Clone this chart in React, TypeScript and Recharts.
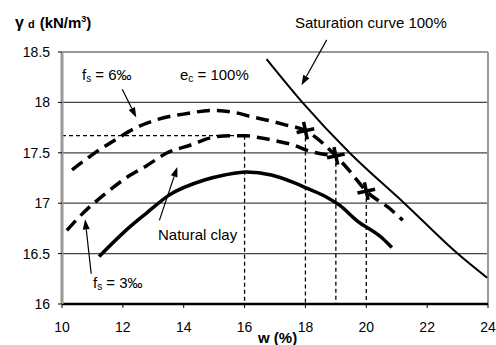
import {
  LineChart,
  Line,
  XAxis,
  YAxis,
  CartesianGrid,
  ReferenceLine,
  Scatter,
} from "recharts";

const xTicks = [10, 12, 14, 16, 18, 20, 22, 24];
const yTicks = [16, 16.5, 17, 17.5, 18, 18.5];

// saturation curve Sr = 100%
const saturationCurve = [
  { w: 16.72, g: 18.43 },
  { w: 17.9, g: 18.0 },
  { w: 19.45, g: 17.5 },
  { w: 21.25, g: 17.0 },
  { w: 23.0, g: 16.5 },
  { w: 23.97, g: 16.26 },
];

const naturalClay = [
  { w: 11.22, g: 16.47 },
  { w: 12.1, g: 16.73 },
  { w: 12.77, g: 16.9 },
  { w: 13.52, g: 17.08 },
  { w: 14.68, g: 17.23 },
  { w: 15.34, g: 17.28 },
  { w: 16.06, g: 17.31 },
  { w: 16.88, g: 17.28 },
  { w: 17.58, g: 17.21 },
  { w: 18.04, g: 17.15 },
  { w: 18.7, g: 17.06 },
  { w: 19.12, g: 16.98 },
  { w: 19.68, g: 16.83 },
  { w: 20.54, g: 16.65 },
  { w: 20.84, g: 16.56 },
];

// fs = 6‰ (continues along the optimum line)
const fs6Curve = [
  { w: 10.33, g: 17.33 },
  { w: 10.99, g: 17.48 },
  { w: 11.65, g: 17.61 },
  { w: 12.44, g: 17.75 },
  { w: 13.13, g: 17.83 },
  { w: 14.12, g: 17.89 },
  { w: 14.9, g: 17.92 },
  { w: 15.67, g: 17.9 },
  { w: 16.2, g: 17.86 },
  { w: 16.8, g: 17.82 },
  { w: 17.31, g: 17.78 },
  { w: 18, g: 17.72 },
  { w: 19, g: 17.47 },
  { w: 19.45, g: 17.32 },
  { w: 20, g: 17.12 },
  { w: 20.8, g: 16.94 },
  { w: 21.2, g: 16.83 },
];

// fs = 3‰
const fs3Curve = [
  { w: 10.16, g: 16.73 },
  { w: 10.72, g: 16.91 },
  { w: 11.45, g: 17.1 },
  { w: 12.1, g: 17.25 },
  { w: 12.77, g: 17.37 },
  { w: 13.46, g: 17.5 },
  { w: 14.25, g: 17.58 },
  { w: 14.9, g: 17.65 },
  { w: 15.5, g: 17.67 },
  { w: 16, g: 17.67 },
  { w: 16.5, g: 17.65 },
  { w: 17.15, g: 17.61 },
  { w: 17.58, g: 17.58 },
  { w: 18.1, g: 17.52 },
  { w: 19, g: 17.47 },
];

const optimumPoints = [
  { w: 18, g: 17.72 },
  { w: 19, g: 17.47 },
  { w: 20, g: 17.12 },
];

const proctorMax = { w: 16, g: 17.67 };

// annotation arrows, [w, g] from -> to
const arrows = [
  { from: [18.7, 18.62], to: [17.87, 18.17] },
  { from: [11.98, 18.13], to: [12.44, 17.85] },
  { from: [13.2, 16.83], to: [13.79, 17.36] },
  { from: [10.96, 16.3], to: [10.76, 16.84] },
];

const font = "'Liberation Sans', Arial, sans-serif";

const Arrow = (props: any) => {
  const { x1, y1, x2, y2 } = props;
  const a = Math.atan2(y2 - y1, x2 - x1);
  const len = 10;
  const hw = 3.5;
  const bx = x2 - len * Math.cos(a);
  const by = y2 - len * Math.sin(a);
  const px = -Math.sin(a) * hw;
  const py = Math.cos(a) * hw;
  return (
    <g>
      <line x1={x1} y1={y1} x2={bx} y2={by} stroke="#000" strokeWidth={1.2} />
      <polygon
        points={`${x2},${y2} ${bx + px},${by + py} ${bx - px},${by - py}`}
        fill="#000"
      />
    </g>
  );
};

const XMark = (props: any) => {
  const { cx, cy } = props;
  if (cx == null || cy == null) return <g />;
  const r = 9;
  return (
    <g transform={`translate(${cx},${cy}) rotate(-12)`}>
      <line x1={-r} y1={0} x2={r} y2={0} stroke="#000" strokeWidth={3.5} />
      <line x1={0} y1={-r} x2={0} y2={r} stroke="#000" strokeWidth={3.5} />
    </g>
  );
};

export default function App() {
  return (
    <div style={{ position: "absolute", left: 0, top: 0, background: "#fff" }}>
      <LineChart
        width={496}
        height={345}
        margin={{ top: 52, right: 8, bottom: 11, left: 22 }}
      >
        <CartesianGrid vertical={false} stroke="#444" strokeWidth={1.2} />
        <XAxis
          dataKey="w"
          type="number"
          domain={[10, 24]}
          ticks={xTicks}
          height={30}
          tickSize={4}
          tickMargin={14}
          axisLine={{ stroke: "#000", strokeWidth: 2.5 }}
          tickLine={{ stroke: "#000" }}
          tick={{ fill: "#000", fontSize: 14, fontFamily: font }}
        />
        <YAxis
          dataKey="g"
          type="number"
          domain={[16, 18.5]}
          ticks={yTicks}
          width={40}
          tickSize={4}
          tickMargin={8}
          axisLine={{ stroke: "#999", strokeWidth: 3 }}
          tickLine={{ stroke: "#000" }}
          tick={{ fill: "#000", fontSize: 14, fontFamily: font }}
        />
        <ReferenceLine y={18.5} stroke="#999" strokeWidth={2} />
        <ReferenceLine x={24} stroke="#999" strokeWidth={2} />

        <ReferenceLine
          segment={[{ x: 10, y: proctorMax.g }, { x: proctorMax.w, y: proctorMax.g }]}
          stroke="#000"
          strokeWidth={1.3}
          strokeDasharray="4 3"
        />
        <ReferenceLine
          segment={[{ x: proctorMax.w, y: proctorMax.g }, { x: proctorMax.w, y: 16 }]}
          stroke="#000"
          strokeWidth={1.3}
          strokeDasharray="4 3"
        />
        {optimumPoints.map((p) => (
          <ReferenceLine
            key={p.w}
            segment={[{ x: p.w, y: p.g }, { x: p.w, y: 16 }]}
            stroke="#000"
            strokeWidth={1.3}
            strokeDasharray="4 3"
          />
        ))}

        <Line
          data={saturationCurve}
          dataKey="g"
          type="monotone"
          stroke="#000"
          strokeWidth={2}
          dot={false}
          isAnimationActive={false}
        />
        <Line
          data={naturalClay}
          dataKey="g"
          type="monotone"
          stroke="#000"
          strokeWidth={3.5}
          dot={false}
          isAnimationActive={false}
        />
        <Line
          data={fs6Curve}
          dataKey="g"
          type="monotone"
          stroke="#000"
          strokeWidth={3.5}
          strokeDasharray="13 7"
          dot={false}
          isAnimationActive={false}
        />
        <Line
          data={fs3Curve}
          dataKey="g"
          type="monotone"
          stroke="#000"
          strokeWidth={3.5}
          strokeDasharray="13 7"
          dot={false}
          isAnimationActive={false}
        />
        <Scatter
          data={optimumPoints}
          dataKey="g"
          shape={<XMark />}
          isAnimationActive={false}
        />

        {arrows.map((a, i) => (
          <ReferenceLine
            key={i}
            segment={[
              { x: a.from[0], y: a.from[1] },
              { x: a.to[0], y: a.to[1] },
            ]}
            ifOverflow="visible"
            shape={(p: any) => <Arrow {...p} />}
          />
        ))}

        <text x={15} y={28} fontFamily={font} fontWeight="bold" fontSize={15} fill="#000">
          <tspan fontSize={16}>γ</tspan>
          <tspan fontSize={11} dx={4}>d</tspan>
          <tspan dx={5}>(kN/m</tspan>
          <tspan fontSize={9} dy={-6}>3</tspan>
          <tspan dy={6}>)</tspan>
        </text>
        <text x={295} y={28} fontFamily={font} fontSize={15} fill="#000">
          Saturation curve 100%
        </text>
        <text x={82} y={80} fontFamily={font} fontSize={15} fill="#000">
          f<tspan fontSize={10} dy={2}>s</tspan>
          <tspan dy={-2}> = 6‰</tspan>
        </text>
        <text x={180} y={80} fontFamily={font} fontSize={15} fill="#000">
          e<tspan fontSize={10} dy={2}>c</tspan>
          <tspan dy={-2}> = 100%</tspan>
        </text>
        <text x={158} y={240} fontFamily={font} fontSize={15} fill="#000">
          Natural clay
        </text>
        <text x={93} y={288} fontFamily={font} fontSize={15} fill="#000">
          f<tspan fontSize={10} dy={2}>s</tspan>
          <tspan dy={-2}> = 3‰</tspan>
        </text>
        <text x={258} y={343} fontFamily={font} fontWeight="bold" fontSize={15} fill="#000">
          w (%)
        </text>
      </LineChart>
    </div>
  );
}
